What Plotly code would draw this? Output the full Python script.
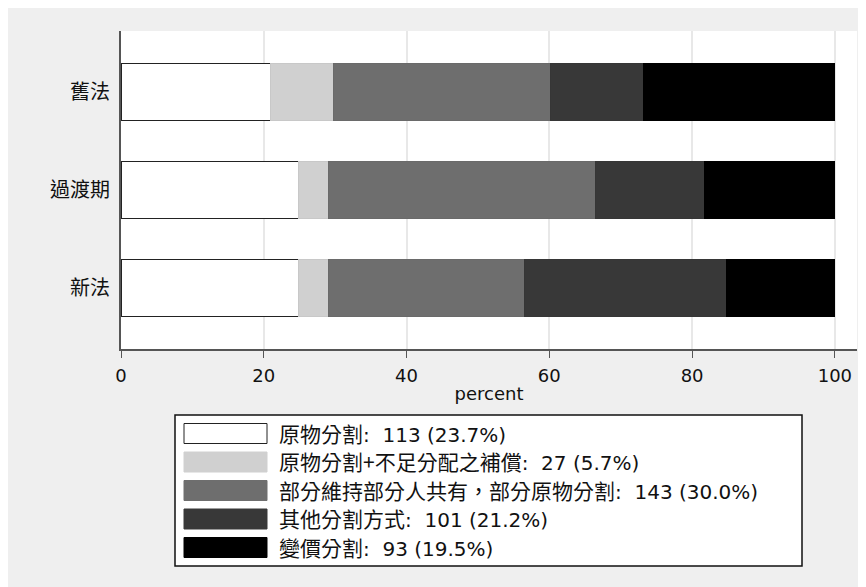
import plotly.graph_objects as go

# ---------------- data ----------------
categories = ["舊法", "過渡期", "新法"]
series_names = ["原物分割", "原物分割+不足分配之補償", "部分維持部分人共有，部分原物分割",
                "其他分割方式", "變價分割"]
series_counts = [113, 27, 143, 101, 93]
series_pcts = [23.7, 5.7, 30.0, 21.2, 19.5]
# percent of each category (舊法, 過渡期, 新法)
s1 = [21.0, 24.9, 24.9]
s2 = [8.8, 4.2, 4.1]
s3 = [30.3, 37.4, 27.5]
s4 = [13.1, 15.3, 28.3]
s5 = [26.8, 18.2, 15.2]
series_values = [s1, s2, s3, s4, s5]
x_ticks = [0, 20, 40, 60, 80, 100]

# ---------------- style ----------------
fills = ["#ffffff", "#d0d0d0", "#6e6e6e", "#383838", "#000000"]
edges = ["#222222", "#c8c8c8", "#6a6a6a", "#363636", "#000000"]
LATIN = "'DejaVu Sans', 'Noto Sans CJK TC', sans-serif"
CJK = "'Noto Sans CJK TC', sans-serif"
W, H = 866, 587
L, R, T, B = 113, 17, 23, 246
PW, PH = W - L - R, H - T - B


def px(x):
    return (x - L) / PW


def py(y):
    return (H - B - y) / PH


fig = go.Figure()
for name, vals, fc, ec in zip(series_names, series_values, fills, edges):
    fig.add_trace(go.Bar(
        y=categories, x=vals, orientation="h", name=name,
        marker=dict(color=fc, line=dict(color=ec, width=1)),
        width=0.59, showlegend=False,
    ))

shapes = []
# legend box
shapes.append(dict(type="rect", xref="paper", yref="paper", x0=px(167), x1=px(794),
                   y0=py(558), y1=py(407), fillcolor="white",
                   line=dict(color="#111111", width=1.5)))
annotations = []
row_tops = [415.5, 444, 472.5, 501, 529.5]
for i, (name, cnt, pct) in enumerate(zip(series_names, series_counts, series_pcts)):
    top = row_tops[i]
    shapes.append(dict(type="rect", xref="paper", yref="paper", x0=px(176), x1=px(259),
                       y0=py(top + 20), y1=py(top), fillcolor=fills[i],
                       line=dict(color="#222222" if i == 0 else fills[i], width=1)))
    label = (f'<span style="font-family:{CJK};font-size:21px">{name}</span>:\u00a0\u00a0'
             f"{cnt} ({pct:.1f}%)")
    annotations.append(dict(xref="paper", yref="paper", x=px(269), y=py(top + 9),
                            xanchor="left", yanchor="middle", showarrow=False,
                            text=label,
                            font=dict(family=LATIN, size=20, color="#111111")))

fig.update_layout(
    width=W, height=H,
    margin=dict(l=L, r=R, t=T, b=B, pad=0),
    paper_bgcolor="#efefef", plot_bgcolor="white",
    barmode="stack", bargap=0.4,
    font=dict(family=LATIN, size=18, color="#111111"),
    shapes=shapes, annotations=annotations,
    showlegend=False,
    xaxis=dict(range=[0, 103.1], tickvals=x_ticks, showgrid=True, gridcolor="#e8e8e8",
               gridwidth=1.5, zeroline=False, showline=True, linecolor="#555555", linewidth=1.5,
               ticks="outside", ticklen=7, tickcolor="#555555", tickwidth=1.2,
               tickfont=dict(size=18), ticklabelstandoff=3,
               title=dict(text="percent", standoff=2, font=dict(size=18)),
               fixedrange=True),
    yaxis=dict(categoryorder="array", categoryarray=categories[::-1], range=[-0.622, 2.622],
               showgrid=False, zeroline=False, showline=True, linecolor="#555555", linewidth=2,
               ticks="", tickfont=dict(size=20, family=CJK),
               ticklabelstandoff=5, fixedrange=True),
)

fig.write_html("out.html")
